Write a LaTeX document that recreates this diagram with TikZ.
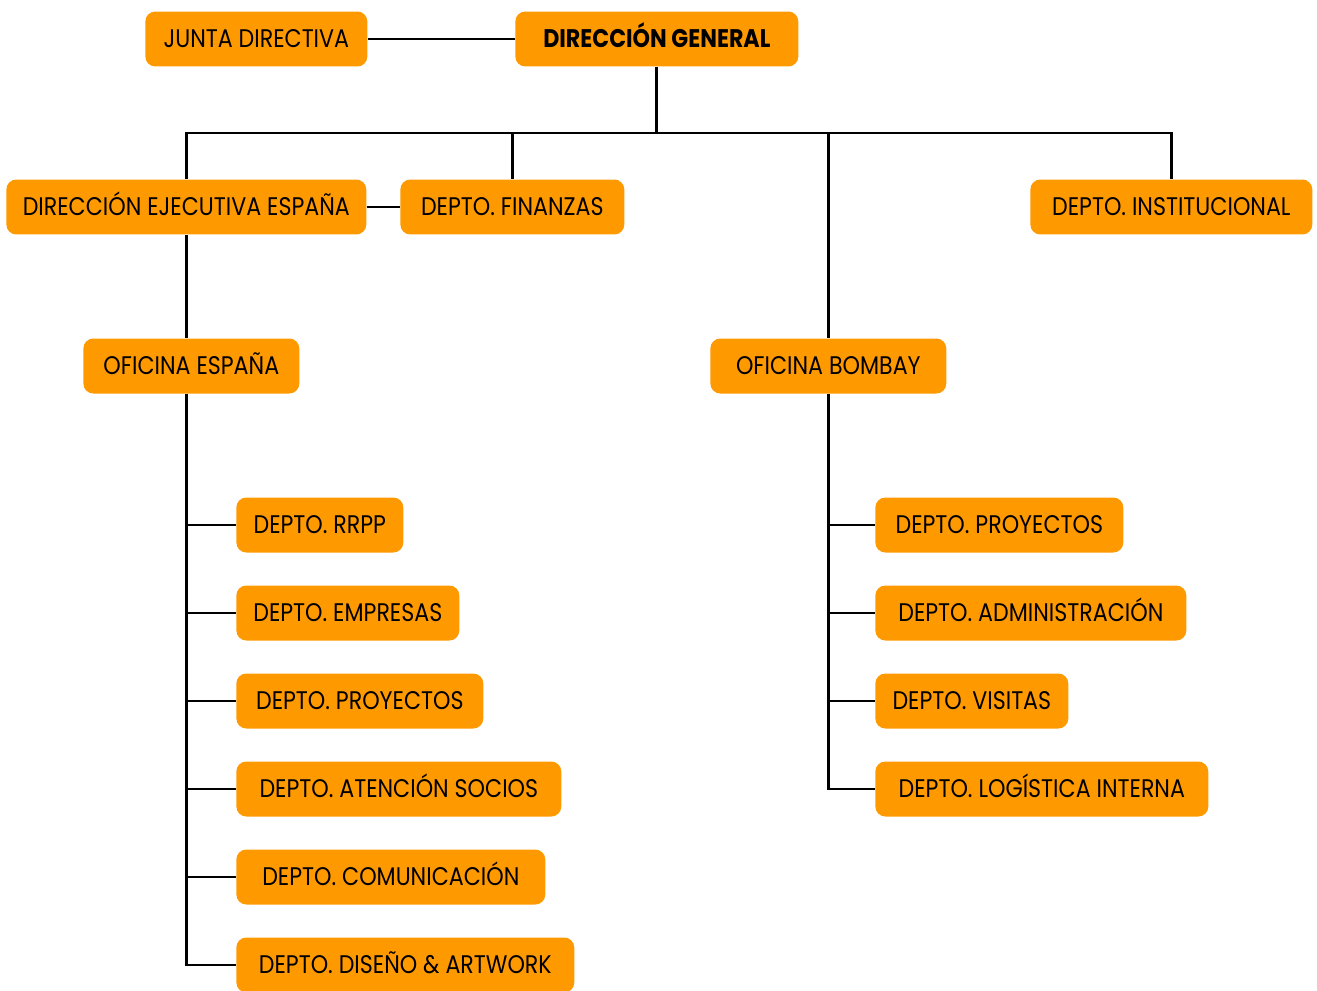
\documentclass[tikz,border=0pt]{standalone}
\usepackage{fontspec}
\setmainfont{Poppins}[FakeStretch=0.87]
\usepackage{xcolor}
\definecolor{orgorange}{RGB}{255,153,0}

\begin{document}
\begin{tikzpicture}[x=0.02cm,y=-0.02cm,
					unit/.style={fill=orgorange,rounded corners=0.2cm,anchor=west,
						minimum height=1.1cm,inner sep=0pt,text height=10pt,text depth=0pt,
						font=\fontsize{14.5}{16}\selectfont},
					link/.style={line width=1.6pt}]
				\useasboundingbox (0,0) rectangle (1317,990);
				% top
				\node[unit,minimum width=4.44cm] (junta) at (145,39) {JUNTA DIRECTIVA};
				\node[unit,minimum width=5.66cm,font=\fontsize{14.5}{16}\selectfont\bfseries] (dg) at (515,39) {DIRECCIÓN GENERAL};
				\node[unit,minimum width=7.2cm] (dee) at (6,207) {DIRECCIÓN EJECUTIVA ESPAÑA};
				\node[unit,minimum width=4.48cm] (fin) at (400,207) {DEPTO. FINANZAS};
				\node[unit,minimum width=5.64cm] (inst) at (1030,207) {DEPTO. INSTITUCIONAL};
				\node[unit,minimum width=4.32cm] (oe) at (83,366) {OFICINA ESPAÑA};
				\node[unit,minimum width=4.72cm] (ob) at (710,366) {OFICINA BOMBAY};
				% oficina espana
				\node[unit,minimum width=3.34cm] (e1) at (236,525) {DEPTO. RRPP};
				\node[unit,minimum width=4.46cm] (e2) at (236,613) {DEPTO. EMPRESAS};
				\node[unit,minimum width=4.94cm] (e3) at (236,701) {DEPTO. PROYECTOS};
				\node[unit,minimum width=6.5cm] (e4) at (236,789) {DEPTO. ATENCIÓN SOCIOS};
				\node[unit,minimum width=6.18cm] (e5) at (236,877) {DEPTO. COMUNICACIÓN};
				\node[unit,minimum width=6.76cm] (e6) at (236,965) {DEPTO. DISEÑO \& ARTWORK};
				% oficina bombay
				\node[unit,minimum width=4.96cm] (b1) at (875,525) {DEPTO. PROYECTOS};
				\node[unit,minimum width=6.22cm] (b2) at (875,613) {DEPTO. ADMINISTRACIÓN};
				\node[unit,minimum width=3.86cm] (b3) at (875,701) {DEPTO. VISITAS};
				\node[unit,minimum width=6.66cm] (b4) at (875,789) {DEPTO. LOGÍSTICA INTERNA};
				% lines
				\coordinate (bus) at (0,133);
				\draw[link] (junta) -- (dg);
				\draw[link] (dg.south) -- (dg.south |- bus);
				\draw[link] (dee.north) |- (bus -| inst.north) -- (inst.north);
				\draw[link] (fin.north) -- (fin.north |- bus);
				\draw[link] (ob.north) -- (ob.north |- bus);
				\draw[link] (dee) -- (fin);
				\draw[link] (dee.south) -- (dee.south |- oe.north);
				\draw[link] (dee.south |- oe.south) |- (e6.west);
				\foreach \n in {e1,e2,e3,e4,e5}
					\draw[link] (\n.west) -- (\n.west -| dee.south);
				\draw[link] (ob.south) |- (b4.west);
				\foreach \n in {b1,b2,b3}
					\draw[link] (\n.west) -- (\n.west -| ob.south);
			\end{tikzpicture}
\end{document}
